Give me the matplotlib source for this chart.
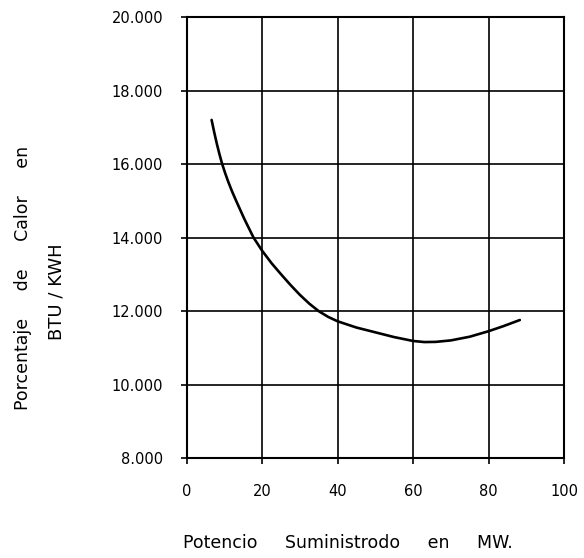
import matplotlib
matplotlib.use("Agg")
import matplotlib.pyplot as plt

# Curve readings (MW, BTU/KWH)
potencia = [6.6, 7.3, 8.0, 8.7, 9.4, 10.2, 11.0, 12.0, 13.1, 15.3, 17.7, 20.0, 22.5, 25.0, 27.5, 30.0,
            32.5, 35.0, 37.5, 40.0, 45.0, 50.0, 55.0, 60.0, 63.0, 66.0, 70.0, 75.0, 80.0, 84.0, 88.3]
calor = [17200, 16860, 16545, 16260, 16000, 15750, 15520, 15260, 15000, 14500, 14000, 13640, 13300,
         13000, 12710, 12440, 12200, 11995, 11840, 11720, 11550, 11420, 11290, 11185, 11155, 11160,
         11200, 11300, 11450, 11590, 11755]

x_ticks = [0, 20, 40, 60, 80, 100]
x_ticklabels = ["0", "20", "40", "60", "80", "100"]
y_ticks = [8000, 10000, 12000, 14000, 16000, 18000, 20000]
y_ticklabels = ["8.000", "10.000", "12.000", "14.000", "16.000", "18.000", "20.000"]

fig = plt.figure(figsize=(5.84, 5.58), dpi=100)
ax = fig.add_axes([0.3197, 0.1792, 0.646, 0.7903])

ax.plot(potencia, calor, color="black", linewidth=1.9, solid_capstyle="round",
        solid_joinstyle="round")

ax.set_xlim(0, 100)
ax.set_ylim(8000, 20000)
ax.set_xticks(x_ticks)
ax.set_xticklabels(x_ticklabels, fontsize=10.5)
ax.set_yticks(y_ticks)
ax.set_yticklabels(y_ticklabels, fontsize=10.5)
ax.grid(True, color="black", linewidth=1.2)
for s in ax.spines.values():
    s.set_color("black")
    s.set_linewidth(1.5)
ax.tick_params(axis="y", direction="out", length=4, width=1.2, pad=13)
ax.tick_params(axis="x", direction="out", length=4, width=1.2, pad=15)

fig.text(0.596, 0.027, "Potencio     Suministrodo     en     MW.", ha="center", va="center",
         fontsize=12.5)
fig.text(0.040, 0.502, "Porcentaje     de     Calor     en", ha="center", va="center",
         rotation=90, fontsize=12.5)
fig.text(0.096, 0.478, "BTU / KWH", ha="center", va="center",
         rotation=90, fontsize=13)

fig.savefig("out.png", dpi=100, facecolor="white")
